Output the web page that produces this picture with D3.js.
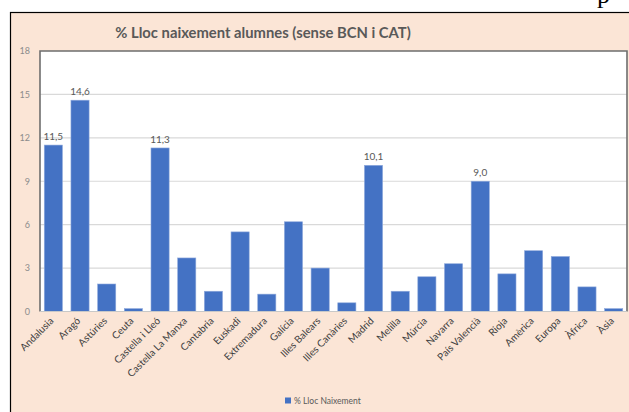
<!DOCTYPE html>
<html><head><meta charset="utf-8">
<script src="https://cdn.jsdelivr.net/npm/d3@7"></script>
<style>body{margin:0;background:#fff}svg{display:block}</style>
</head><body>
<script>
const categories = ["Andalusia","Aragó","Astúries","Ceuta","Castella i Lleó","Castella La Manxa","Cantabria","Euskadi","Extremadura","Galícia","Illes Balears","Illes Canàries","Madrid","Melilla","Múrcia","Navarra","País Valencià","Rioja","Amèrica","Europa","Àfrica","Àsia"];
const values = [11.5,14.6,1.9,0.2,11.3,3.7,1.4,5.5,1.2,6.2,3.0,0.6,10.1,1.4,2.4,3.3,9.0,2.6,4.2,3.8,1.7,0.2];
const shownLabels = ["Andalusia","Aragó","Castella i Lleó","Madrid","País Valencià"];
const yTicks = [0,3,6,9,12,15,18];
const title = "% Lloc naixement alumnes (sense BCN i CAT)";
const seriesName = "% Lloc Naixement";

const W = 629, H = 412;
const svg = d3.select("body").append("svg").attr("width", W).attr("height", H);
const font = "Lato, 'Open Sans', sans-serif";

// chart background
svg.append("rect").attr("x", 10.5).attr("y", 12.5).attr("width", W).attr("height", H)
  .attr("fill", "#FBE5D6").attr("stroke", "#000").attr("stroke-width", 1.2);
svg.append("text").attr("x", 597).attr("y", 3).attr("font-family", "'Liberation Serif', serif")
  .attr("font-size", 26).attr("fill", "#000").text("p");

const m = {left: 40, top: 51, right: 627, bottom: 311.5};
const x = d3.scaleBand().domain(categories).range([m.left, m.right]).paddingInner(0.32).paddingOuter(0.16);
const y = d3.scaleLinear().domain([0, 18]).range([m.bottom, m.top]);

svg.append("rect").attr("x", m.left).attr("y", m.top).attr("width", m.right - m.left).attr("height", m.bottom - m.top)
  .attr("fill", "#fff");

// gridlines
svg.append("g").selectAll("line").data(yTicks.filter(d => d > 0 && d < 18)).join("line")
  .attr("x1", m.left).attr("x2", m.right).attr("y1", d => y(d)).attr("y2", d => y(d))
  .attr("stroke", "#d9d9d9").attr("stroke-width", 1.2);

// bars
svg.append("g").selectAll("rect").data(values).join("rect")
  .attr("x", (d, i) => x(categories[i])).attr("width", x.bandwidth())
  .attr("y", d => y(d)).attr("height", d => y(0) - y(d))
  .attr("fill", "#4472C4").attr("stroke", "#8fa9dc").attr("stroke-width", 0.6);

// plot border
svg.append("path")
  .attr("d", `M${m.left},${m.bottom}V${m.top}H${m.right}V${m.bottom}`)
  .attr("fill", "none").attr("stroke", "#6e6e6e").attr("stroke-width", 1.6);
svg.append("line").attr("x1", m.left).attr("x2", m.right).attr("y1", m.bottom).attr("y2", m.bottom)
  .attr("stroke", "#c8c8c8").attr("stroke-width", 1);

// y axis
const yAxis = d3.axisLeft(y).tickValues(yTicks).tickSize(0).tickPadding(10);
const gy = svg.append("g").attr("transform", `translate(${m.left},0)`).call(yAxis);
gy.select(".domain").remove();
gy.selectAll("text").attr("font-family", font).attr("font-size", 9).attr("fill", "#8c8c8c");

// x axis
const xAxis = d3.axisBottom(x).tickSize(0).tickPadding(0);
const gx = svg.append("g").attr("transform", `translate(0,${m.bottom})`).call(xAxis);
gx.select(".domain").remove();
gx.selectAll("text").attr("font-family", font).attr("font-size", 10).attr("fill", "#404040")
  .attr("text-anchor", "end").attr("dy", 0)
  .attr("transform", "translate(1,10) rotate(-45)");

// data labels
svg.append("g").selectAll("text").data(categories.filter(c => shownLabels.includes(c))).join("text")
  .attr("x", c => x(c) + x.bandwidth() / 2)
  .attr("y", c => y(values[categories.indexOf(c)]) - 5)
  .attr("text-anchor", "middle").attr("font-family", font).attr("font-size", 10).attr("fill", "#595959")
  .text(c => values[categories.indexOf(c)].toFixed(1).replace(".", ","));

// title
svg.append("text").attr("x", 263).attr("y", 38).attr("text-anchor", "middle")
  .attr("font-family", font).attr("font-weight", "bold").attr("font-size", 14.8).attr("fill", "#595959")
  .text(title);

// legend
svg.append("rect").attr("x", 285).attr("y", 397.5).attr("width", 6).attr("height", 6).attr("fill", "#4472C4");
svg.append("text").attr("x", 294).attr("y", 404).attr("font-family", font).attr("font-size", 8.5).attr("fill", "#595959")
  .text(seriesName);
</script>
</body></html>
